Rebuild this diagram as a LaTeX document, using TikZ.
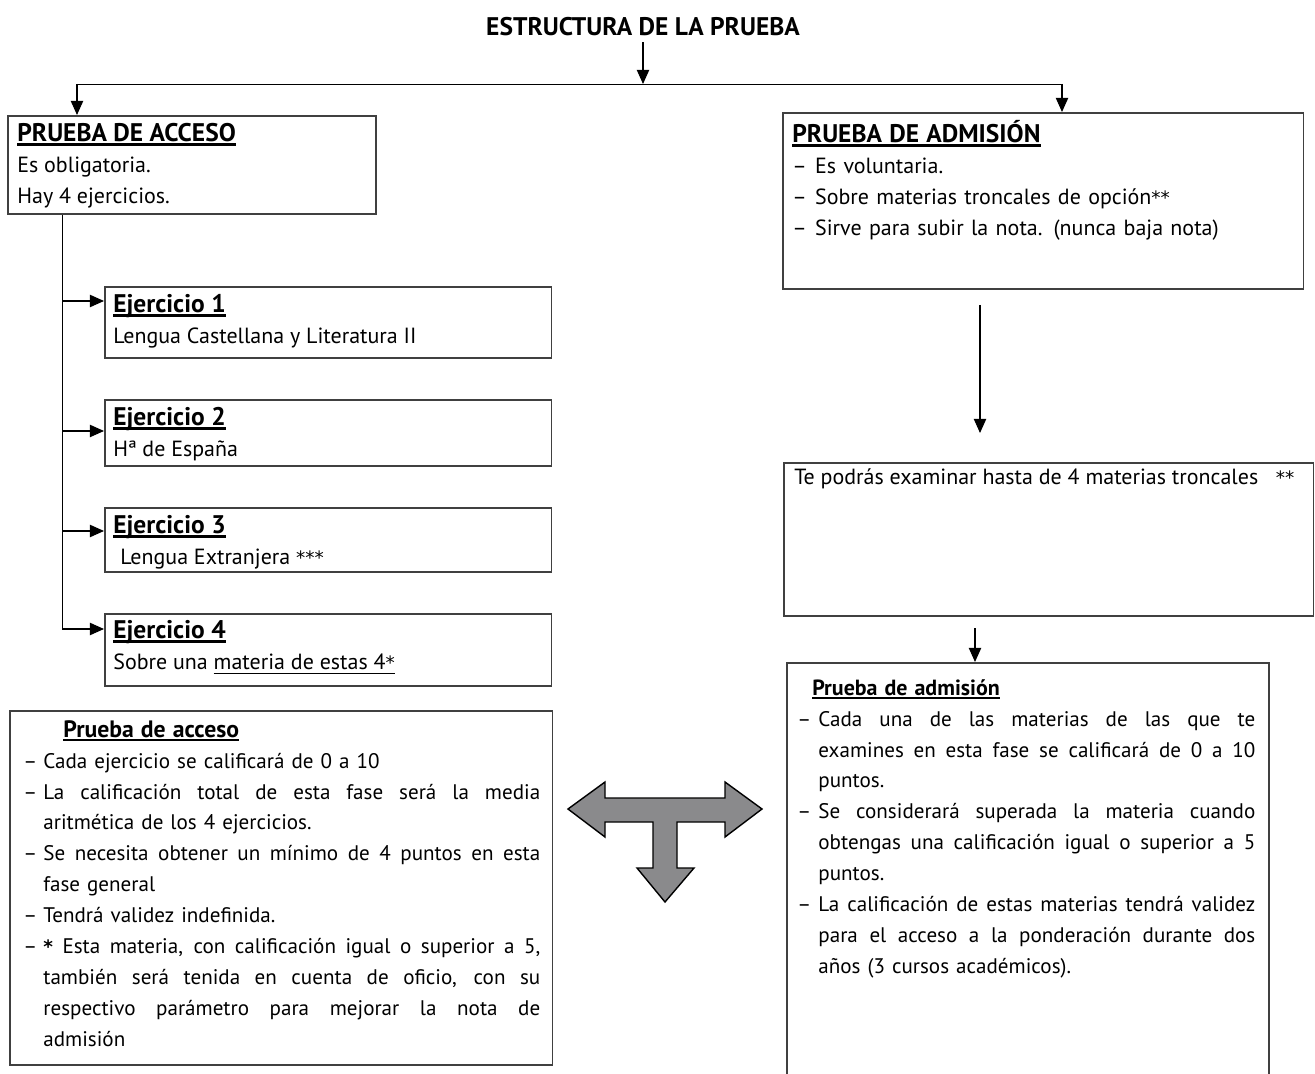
\documentclass[tikz,border=0pt]{standalone}
\usepackage{fontspec}
\setmainfont{PT Sans}
\newfontfamily\dejavu{DejaVu Sans}
\usetikzlibrary{arrows.meta}
\definecolor{gris}{RGB}{138,138,140}
\newlength{\sangria}
\newlength{\anchojl}
\newsavebox{\cajatexto}
\newcommand{\linea}[2]{\sbox{\cajatexto}{#2}\rlap{\rule[-2.4pt]{\wd\cajatexto}{#1}}\usebox{\cajatexto}}
\newcommand{\subr}[2][14.5]{\linea{1.4pt}{\fontsize{#1}{17.6}\selectfont\textbf{#2}}}
\newcommand{\estrella}[1]{{\dejavu\fontsize{10.5}{12}\selectfont #1}}
\newcommand{\guion}{\makebox[\sangria][l]{--}}
\newcommand{\sig}{\hspace*{\sangria}}
\newcommand{\jl}[1]{{\spaceskip=0pt\xspaceskip=0pt\makebox[\anchojl][s]{#1}}}
\tikzset{
  caja/.style={draw=black!75, line width=0.9pt, anchor=north west, inner sep=0pt},
  texto/.style={anchor=north west, inner sep=0pt, align=left,
    font=\fontsize{12.5}{17.6}\selectfont},
  flecha/.style={-{Triangle[length=8pt,width=7pt]}, line width=0.6pt}
}

\begin{document}
\begin{tikzpicture}[x=0.02cm, y=-0.02cm]
\useasboundingbox (0,0) rectangle (1315,1074);
% titulo y reparto
\node[font=\fontsize{14.5}{17}\selectfont\bfseries] (titulo) at (643,27) {ESTRUCTURA DE LA PRUEBA};
\coordinate (cruce) at (643,84);
\coordinate (izq) at (77,84);
\coordinate (der) at (1062,84);
% cajas de arriba
\node[caja, minimum width=7.36cm, minimum height=1.96cm] (acceso) at (7,115) {};
\node[texto] (acceso-txt) at (17,123) {\subr{PRUEBA DE ACCESO}\\ Es obligatoria.\\ Hay 4 ejercicios.};
\node[caja, minimum width=10.42cm, minimum height=3.52cm] (admision) at (782,112) {};
\node[texto, text width=10cm] (admision-txt) at (792,120) {\setlength{\sangria}{13pt}%
  \subr{PRUEBA DE ADMISIÓN}\\
  \guion Es voluntaria.\\
  \guion Sobre materias troncales de opción\estrella{**}\\
  \guion Sirve para subir la nota. (nunca baja nota)};
% ejercicios
\node[caja, minimum width=8.94cm, minimum height=1.42cm] (ej1) at (104,286) {};
\node[texto] (ej1-txt) at (113,294) {\subr{Ejercicio 1}\\ Lengua Castellana y Literatura II};
\node[caja, minimum width=8.94cm, minimum height=1.32cm] (ej2) at (104,399) {};
\node[texto] (ej2-txt) at (113,407) {\subr{Ejercicio 2}\\ Hª de España};
\node[caja, minimum width=8.94cm, minimum height=1.28cm] (ej3) at (104,507) {};
\node[texto] (ej3-txt) at (113,515) {\subr{Ejercicio 3}\\ \hspace*{4pt}Lengua Extranjera \estrella{***}};
\node[caja, minimum width=8.94cm, minimum height=1.44cm] (ej4) at (104,613) {};
\node[texto] (ej4-txt) at (113,620) {\subr{Ejercicio 4}\\ Sobre una \linea{0.6pt}{materia de estas 4\estrella{*}}};
% lado derecho
\node[caja, minimum width=10.6cm, minimum height=3.06cm] (troncales) at (783,462) {};
\node[texto] (troncales-txt) at (794,468) {Te podrás examinar hasta de 4 materias troncales\hspace{0.8em}\estrella{**}};
% calificaciones
\node[caja, minimum width=10.86cm, minimum height=7.08cm] (calacceso) at (9,710) {};
\node[texto, text width=10.34cm, font=\fontsize{12}{17.6}\selectfont] (calacceso-txt) at (23,720)
  {\setlength{\sangria}{11.4pt}\setlength{\anchojl}{9.94cm}%
  \hspace*{22.8pt}\subr[13.5]{Prueba de acceso}\\
  \guion Cada ejercicio se calificará de 0 a 10\\
  \guion\jl{La calificación total de esta fase será la media}\\
  \sig aritmética de los 4 ejercicios.\\
  \guion\jl{Se necesita obtener un mínimo de 4 puntos en esta}\\
  \sig fase general\\
  \guion Tendrá validez indefinida.\\
  \guion\jl{\textbf{\estrella{*}} Esta materia, con calificación igual o superior a 5,}\\
  \sig\jl{también será tenida en cuenta de oficio, con su}\\
  \sig\jl{respectivo parámetro para mejorar la nota de}\\
  \sig admisión};
\node[caja, minimum width=9.64cm, minimum height=8.56cm] (caladmision) at (786,662) {};
\node[texto, text width=9.16cm, font=\fontsize{12}{17.6}\selectfont] (caladmision-txt) at (797,679)
  {\setlength{\sangria}{12pt}\setlength{\anchojl}{8.74cm}%
  \hspace*{8.5pt}\subr[12.5]{Prueba de admisión}\\
  \guion\jl{Cada una de las materias de las que te}\\
  \sig\jl{examines en esta fase se calificará de 0 a 10}\\
  \sig puntos.\\
  \guion\jl{Se considerará superada la materia cuando}\\
  \sig\jl{obtengas una calificación igual o superior a 5}\\
  \sig puntos.\\
  \guion\jl{La calificación de estas materias tendrá validez}\\
  \sig\jl{para el acceso a la ponderación durante dos}\\
  \sig años (3 cursos académicos).};
% flechas
\draw[flecha] (titulo) -- (cruce);
\draw (izq) -- (der);
\draw[flecha] (izq) -- (izq |- acceso.north);
\draw[flecha] (der) -- (der |- admision.north);
\coordinate (tronco) at (62,629);
\draw (acceso.south -| tronco) -- (tronco);
\path ([yshift=-0.30cm]ej1.north west) coordinate (e1)
      ([yshift=-0.64cm]ej2.north west) coordinate (e2)
      ([yshift=-0.48cm]ej3.north west) coordinate (e3)
      ([yshift=-0.32cm]ej4.north west) coordinate (e4);
\foreach \e in {e1,e2,e3,e4}
  \draw[flecha] (\e -| tronco) -- (\e);
\coordinate (baja1) at (980,305);
\coordinate (baja2) at (980,433);
\draw[flecha] (baja1) -- (baja2);
\coordinate (baja3) at (975,628);
\draw[flecha] (baja3) -- (baja3 |- caladmision.north);
% flecha gris en T
\draw[fill=gris, line width=0.8pt] (568,809) -- (605,782) -- (605,798) -- (725,798) -- (725,782)
  -- (762,809) -- (725,837) -- (725,822) -- (677,822) -- (677,868) -- (694,868) -- (665,902)
  -- (637,868) -- (653,868) -- (653,822) -- (605,822) -- (605,837) -- cycle;
\end{tikzpicture}
\end{document}
